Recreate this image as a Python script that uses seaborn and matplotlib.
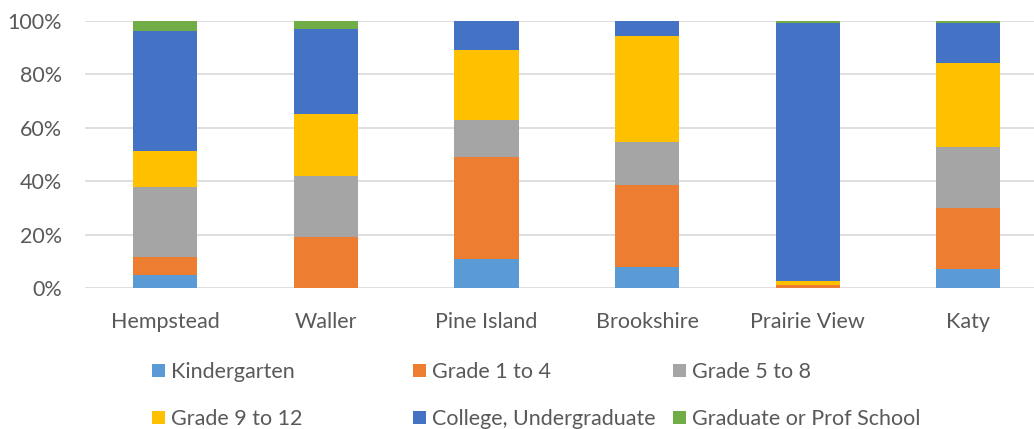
import numpy as np
import pandas as pd
import matplotlib
matplotlib.use("Agg")
import matplotlib.pyplot as plt
import seaborn as sns
from matplotlib.patches import Patch

cities = ["Hempstead", "Waller", "Pine Island", "Brookshire", "Prairie View", "Katy"]
levels = ["Kindergarten", "Grade 1 to 4", "Grade 5 to 8", "Grade 9 to 12",
          "College, Undergraduate", "Graduate or Prof School"]
kindergarten = [4.7, 0.0, 10.7, 7.9, 0.0, 7.1]
grade_1_4 = [7.0, 19.0, 38.4, 30.7, 1.0, 22.7]
grade_5_8 = [26.0, 22.8, 13.7, 15.9, 0.0, 23.1]
grade_9_12 = [13.7, 23.2, 26.5, 39.7, 1.8, 31.4]
college = [44.7, 32.0, 10.7, 5.8, 96.3, 14.8]
graduate = [3.9, 3.0, 0.0, 0.0, 0.9, 0.9]
yticks = [0, 20, 40, 60, 80, 100]
ytick_labels = ["0%", "20%", "40%", "60%", "80%", "100%"]

colors = ["#5B9BD5", "#ED7D31", "#A5A5A5", "#FFC000", "#4472C4", "#70AD47"]

series = [kindergarten, grade_1_4, grade_5_8, grade_9_12, college, graduate]
vals = np.array(series, dtype=float)
totals = vals.sum(axis=0)
pct = vals / totals * 100
cum = np.cumsum(pct, axis=0)

sns.set_theme(style="white")
plt.rcParams["font.family"] = ["Lato", "DejaVu Sans"]

FS = 15.5
fig = plt.figure(figsize=(10.34, 4.29), dpi=100)
ax = fig.add_axes([85 / 1034, 1 - 288 / 429, 1 - 85 / 1034, (288 - 21) / 429])

# draw cumulative bars from top level down so lower segments overlay
for i in range(len(levels) - 1, -1, -1):
    df = pd.DataFrame({"city": cities, "value": cum[i]})
    sns.barplot(data=df, x="city", y="value", color=colors[i], width=0.4,
                order=cities, ax=ax, saturation=1, linewidth=0, zorder=2)

ax.set_ylim(0, 100)
ax.set_xlim(-0.5, 949 / 160.6 - 0.5)
ax.set_yticks(yticks)
ax.set_yticklabels(ytick_labels)
ax.yaxis.grid(True, color="#D9D9D9", linewidth=1.2, zorder=0)
ax.set_axisbelow(True)
for s in ax.spines.values():
    s.set_visible(False)
ax.set_xlabel("")
ax.set_ylabel("")
ax.tick_params(axis="both", length=0, labelsize=FS, colors="#595959")
ax.tick_params(axis="y", pad=16.5)
ax.tick_params(axis="x", pad=17)

# legend in three equal-width columns
col_x = [152 / 1034, 413 / 1034, 673 / 1034]
order = [[0, 3], [1, 4], [2, 5]]
for cx, idxs in zip(col_x, order):
    handles = [Patch(facecolor=colors[j], edgecolor="none") for j in idxs]
    labels = [levels[j] for j in idxs]
    fig.legend(handles, labels, loc="center left",
               bbox_to_anchor=(cx, 1 - 395.7 / 429), frameon=False,
               fontsize=FS, handlelength=0.6, handleheight=0.6,
               handletextpad=0.3, labelspacing=1.25, borderpad=0,
               borderaxespad=0, labelcolor="#595959")

fig.savefig("out.png", dpi=100)
